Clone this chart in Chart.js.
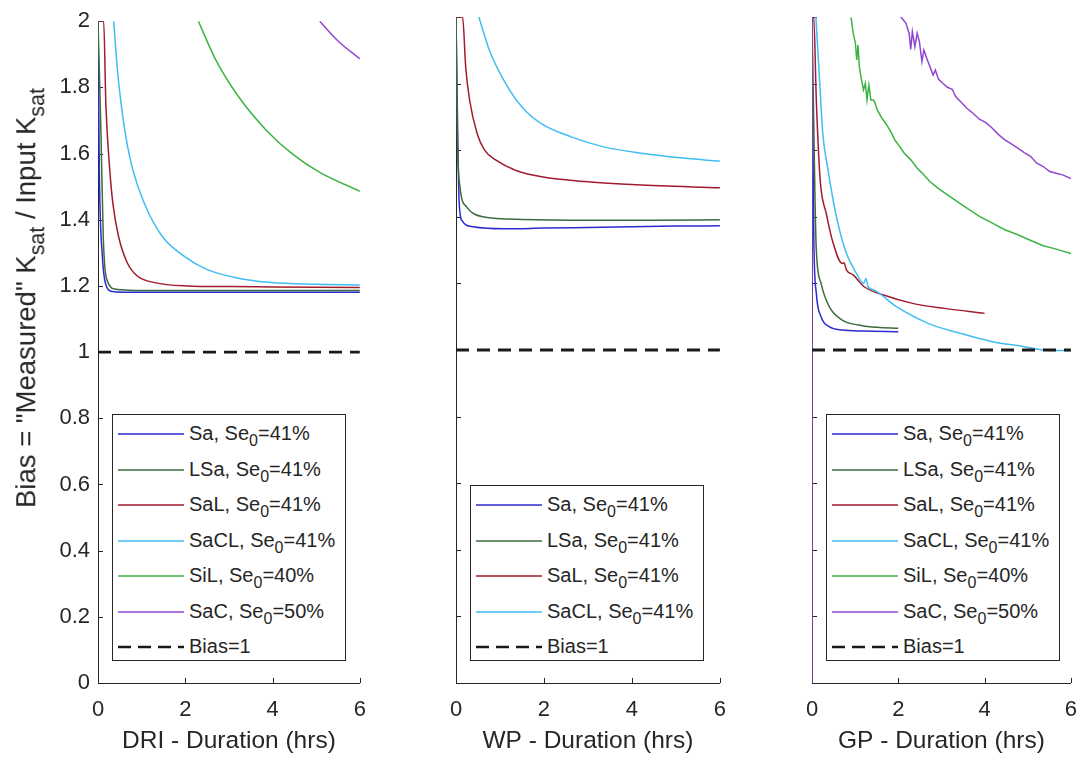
<!DOCTYPE html>
<html>
<head>
<meta charset="utf-8">
<script src="https://cdn.jsdelivr.net/npm/chart.js@4.4.1/dist/chart.umd.min.js"></script>
<style>
  html, body { margin: 0; padding: 0; background: #fff; }
  #fig { position: relative; width: 1091px; height: 758px; overflow: hidden;
         font-family: "Liberation Sans", Arial, sans-serif; color: #262626; }
  canvas { position: absolute; top: 0; }
  .legend { position: absolute; border: 1px solid #262626; background: #fff; box-sizing: border-box; }
  .row { position: absolute; left: 0; height: 0; width: 100%; }
  .row svg { position: absolute; left: 4px; top: -3px; }
  .row > span { position: absolute; left: 76px; top: 0; transform: translateY(-55%);
                white-space: nowrap; font-size: 20px; line-height: 1; }
  .sub { font-size: 0.8em; position: relative; top: 0.38em; }
  #ytitle { position: absolute; left: 26px; top: 298px; white-space: nowrap;
            font-size: 27.5px; line-height: 1; transform: translate(-50%, -50%) rotate(-90deg); }
  #ytitle .sub { font-size: 0.78em; top: 0.4em; }
</style>
</head>
<body>
<div id="fig">
  <canvas id="cDRI" width="380" height="758" style="left:0px"></canvas>
  <canvas id="cWP" width="360" height="758" style="left:380px"></canvas>
  <canvas id="cGP" width="351" height="758" style="left:740px"></canvas>
  <div id="ytitle">Bias = "Measured" K<span class="sub">sat</span> / Input K<span class="sub">sat</span></div>
</div>
<script>
// ---- axis ticks ----
const xTickValues = [0, 2, 4, 6];
const xTickLabels = ['0', '2', '4', '6'];
const yTickValues = [0, 0.2, 0.4, 0.6, 0.8, 1, 1.2, 1.4, 1.6, 1.8, 2];
const yTickLabels = ['0', '0.2', '0.4', '0.6', '0.8', '1', '1.2', '1.4', '1.6', '1.8', '2'];

// ---- soils and initial effective saturation ----
const soils = ['Sa', 'LSa', 'SaL', 'SaCL', 'SiL', 'SaC'];
const se0 = [41, 41, 41, 41, 40, 50];
const soilColors = ['#2b2bd4', '#3e6b3e', '#a11b2e', '#40bdf2', '#3cb544', '#9146d0'];

// ---- reference line ----
const biasLabel = 'Bias=1';
const biasT = [0, 6];
const biasV = [1, 1];

// ---- DRI : duration (hrs) and bias ----
const driSaT = [0, 0.03, 0.1, 0.19, 0.33, 0.6, 1, 2, 3, 4, 5, 6];
const driSaV = [2.0, 1.55, 1.29, 1.20, 1.183, 1.181, 1.181, 1.181, 1.181, 1.181, 1.181, 1.181];
const driLSaT = [0, 0.07, 0.12, 0.23, 0.41, 0.7, 1, 2, 4, 6];
const driLSaV = [2.0, 1.65, 1.35, 1.21, 1.19, 1.187, 1.186, 1.186, 1.186, 1.186];
const driSaLT = [0, 0.13, 0.18, 0.27, 0.34, 0.47, 0.67, 0.9, 1.3, 2.04, 3, 4, 5, 6];
const driSaLV = [2.0, 2.0, 1.75, 1.55, 1.45, 1.35, 1.27, 1.23, 1.21, 1.20, 1.198, 1.197, 1.196, 1.195];
const driSaCLT = [0.36, 0.44, 0.53, 0.64, 0.8, 1.06, 1.47, 1.97, 2.49, 3.16, 3.97, 5, 6];
const driSaCLV = [2.0, 1.86, 1.75, 1.65, 1.55, 1.45, 1.35, 1.29, 1.25, 1.225, 1.21, 1.205, 1.203];
const driSiLT = [2.3, 2.71, 3.23, 3.86, 4.49, 5.08, 6];
const driSiLV = [2.0, 1.88, 1.77, 1.67, 1.595, 1.543, 1.486];
const driSaCT = [5.08, 5.5, 6];
const driSaCV = [2.0, 1.94, 1.886];

// ---- WP : duration (hrs) and bias ----
const wpSaT = [0, 0.07, 0.13, 0.39, 1.13, 2, 3, 4, 5, 6];
const wpSaV = [2.0, 1.45, 1.39, 1.37, 1.364, 1.366, 1.368, 1.37, 1.372, 1.373];
const wpLSaT = [0, 0.03, 0.09, 0.24, 0.61, 1.5, 3, 4.5, 6];
const wpLSaV = [2.0, 1.65, 1.49, 1.43, 1.40, 1.392, 1.39, 1.39, 1.391];
const wpSaLT = [0, 0.15, 0.22, 0.31, 0.48, 0.65, 0.91, 1.35, 1.95, 2.99, 4.1, 6];
const wpSaLV = [2.0, 2.0, 1.85, 1.75, 1.65, 1.60, 1.57, 1.54, 1.52, 1.505, 1.496, 1.487];
const wpSaCLT = [0.52, 0.76, 1.13, 1.5, 1.94, 2.62, 3.36, 4.26, 5.1, 6];
const wpSaCLV = [2.0, 1.90, 1.80, 1.73, 1.68, 1.64, 1.61, 1.59, 1.577, 1.567];

// ---- GP : duration (hrs) and bias ----
const gpSaT = [0, 0.04, 0.10, 0.21, 0.4, 0.7, 1.2, 2.0];
const gpSaV = [2.0, 1.35, 1.17, 1.10, 1.07, 1.06, 1.057, 1.055];
const gpLSaT = [0, 0.07, 0.10, 0.21, 0.4, 0.7, 1.07, 1.51, 2.0];
const gpLSaV = [2.0, 1.45, 1.30, 1.20, 1.13, 1.09, 1.075, 1.068, 1.065];
const gpSaLT = [0, 0.04, 0.10, 0.19, 0.33, 0.47, 0.70, 0.74, 0.80, 0.96, 1.21, 1.66, 2.33, 3.07, 4.0];
const gpSaLV = [2.0, 2.0, 1.75, 1.51, 1.41, 1.33, 1.26, 1.262, 1.24, 1.225, 1.19, 1.165, 1.14, 1.125, 1.11];
const gpSaCLT = [0.09, 0.18, 0.25, 0.36, 0.55, 0.77, 1.03, 1.2, 1.25, 1.3, 1.44, 1.96, 2.69, 3.44, 4.18, 4.92, 5.36, 6];
const gpSaCLV = [2.0, 1.80, 1.65, 1.55, 1.41, 1.30, 1.23, 1.20, 1.215, 1.19, 1.18, 1.13, 1.08, 1.05, 1.025, 1.01, 1.0, 0.998];
const gpSiLT = [0.904, 0.956, 1.007, 1.037, 1.067, 1.096, 1.141, 1.193, 1.237, 1.274, 1.318, 1.363, 1.422, 1.46, 1.511, 1.622, 1.733, 1.844, 1.918, 2.03, 2.14, 2.29, 2.44, 2.59, 2.73, 2.92, 3.14, 3.36, 3.59, 3.88, 4.18, 4.47, 4.77, 5.07, 5.36, 5.66, 6.0];
const gpSiLV = [1.999, 1.951, 1.921, 1.871, 1.916, 1.851, 1.816, 1.781, 1.801, 1.751, 1.796, 1.751, 1.751, 1.742, 1.721, 1.696, 1.676, 1.651, 1.631, 1.611, 1.591, 1.571, 1.546, 1.526, 1.506, 1.486, 1.466, 1.446, 1.426, 1.401, 1.381, 1.361, 1.346, 1.329, 1.313, 1.303, 1.29];
const gpSaCT = [0, 0, 2.067, 2.178, 2.252, 2.289, 2.326, 2.385, 2.437, 2.489, 2.548, 2.593, 2.659, 2.733, 2.807, 2.859, 2.933, 3.03, 3.14, 3.25, 3.33, 3.44, 3.59, 3.73, 3.88, 4.03, 4.18, 4.33, 4.47, 4.62, 4.77, 4.92, 5.07, 5.21, 5.36, 5.51, 5.66, 5.81, 6.0];
const gpSaCV = [0, 2.6, 1.999, 1.981, 1.951, 1.903, 1.956, 1.911, 1.951, 1.926, 1.866, 1.901, 1.876, 1.851, 1.826, 1.841, 1.813, 1.801, 1.789, 1.783, 1.761, 1.746, 1.726, 1.711, 1.693, 1.683, 1.666, 1.646, 1.631, 1.619, 1.606, 1.593, 1.581, 1.561, 1.551, 1.536, 1.531, 1.526, 1.515];

// ---- panel definitions (noisy GP runs are drawn as straight segments) ----
const panels = [
  { canvas: 'cDRI', title: 'DRI - Duration (hrs)', axisWidth: 98, padRight: 12, showYLabels: true,
    series: [[driSaT, driSaV], [driLSaT, driLSaV], [driSaLT, driSaLV], [driSaCLT, driSaCLV], [driSiLT, driSiLV], [driSaCT, driSaCV]],
    smooth: [true, true, true, true, true, true],
    legend: { left: 112, top: 414, width: 234 } },
  { canvas: 'cWP', title: 'WP - Duration (hrs)', axisWidth: 76, padRight: 15, showYLabels: false,
    series: [[wpSaT, wpSaV], [wpLSaT, wpLSaV], [wpSaLT, wpSaLV], [wpSaCLT, wpSaCLV]],
    smooth: [true, true, true, true],
    legend: { left: 470, top: 485, width: 234 } },
  { canvas: 'cGP', title: 'GP - Duration (hrs)', axisWidth: 72, padRight: 9, showYLabels: false,
    series: [[gpSaT, gpSaV], [gpLSaT, gpLSaV], [gpSaLT, gpSaLV], [gpSaCLT, gpSaCLV], [gpSiLT, gpSiLV], [gpSaCT, gpSaCV]],
    smooth: [true, true, true, true, false, false],
    legend: { left: 826, top: 414, width: 234 } }
];

const AXIS = '#262626';
const FONT = '"Liberation Sans", Arial, sans-serif';
const ROW_GAP = 35.5;

const toPoints = (t, v) => t.map((x, i) => ({ x: x, y: v[i] }));

// short tick marks pointing into the plot area, placed by the scales
const inwardTicks = {
  id: 'inwardTicks',
  beforeDatasetsDraw(chart) {
    const { ctx, chartArea: a, scales: { x, y } } = chart;
    ctx.save();
    ctx.strokeStyle = AXIS;
    ctx.lineWidth = 1;
    ctx.beginPath();
    y.ticks.forEach(t => {
      const py = Math.round(y.getPixelForValue(t.value)) + 0.5;
      ctx.moveTo(a.left, py); ctx.lineTo(a.left + 5, py);
    });
    x.ticks.forEach(t => {
      const px = Math.round(x.getPixelForValue(t.value)) + 0.5;
      ctx.moveTo(px, a.bottom); ctx.lineTo(px, a.bottom - 5);
    });
    ctx.stroke();
    ctx.restore();
  }
};

function buildLegend(p) {
  const fig = document.getElementById('fig');
  const n = p.series.length + 1;
  const box = document.createElement('div');
  box.className = 'legend';
  box.style.left = p.legend.left + 'px';
  box.style.top = p.legend.top + 'px';
  box.style.width = p.legend.width + 'px';
  box.style.height = (20 + (n - 1) * ROW_GAP + 14) + 'px';
  for (let i = 0; i < n; i++) {
    const row = document.createElement('div');
    row.className = 'row';
    row.style.top = (19 + i * ROW_GAP) + 'px';
    const isBias = i === n - 1;
    const stroke = isBias ? '#1a1a1a' : soilColors[i];
    const dash = isBias ? ' stroke-dasharray="13 7"' : '';
    const w = isBias ? 2.6 : 1.5;
    row.innerHTML = '<svg width="67" height="6"><line x1="1" y1="3" x2="67" y2="3" stroke="' + stroke +
      '" stroke-width="' + w + '"' + dash + '/></svg>' +
      (isBias ? '<span>' + biasLabel + '</span>'
              : '<span>' + soils[i] + ', Se<span class="sub">0</span>=' + se0[i] + '%</span>');
    box.appendChild(row);
  }
  fig.appendChild(box);
}

panels.forEach(p => {
  const datasets = p.series.map((s, i) => ({
    label: soils[i] + ', Se0=' + se0[i] + '%',
    data: toPoints(s[0], s[1]),
    borderColor: soilColors[i],
    borderWidth: 1.5,
    pointRadius: 0,
    tension: 0,
    cubicInterpolationMode: p.smooth[i] ? 'monotone' : 'default',
    fill: false,
    order: 20 - i
  }));
  datasets.push({
    label: biasLabel,
    data: toPoints(biasT, biasV),
    borderColor: '#1a1a1a',
    borderWidth: 2.8,
    borderDash: [13, 8],
    pointRadius: 0,
    fill: false,
    order: 0
  });

  new Chart(document.getElementById(p.canvas), {
    type: 'scatter',
    data: { datasets: datasets },
    options: {
      responsive: false,
      animation: false,
      devicePixelRatio: 1,
      showLine: true,
      layout: { padding: { top: 17, right: p.padRight, bottom: 0, left: 0 } },
      plugins: { legend: { display: false }, tooltip: { enabled: false } },
      scales: {
        x: {
          type: 'linear', min: 0, max: 6,
          afterBuildTicks: s => { s.ticks = xTickValues.map(v => ({ value: v })); },
          afterFit: s => { s.height = 75; },
          grid: { display: false, drawTicks: false },
          border: { display: true, color: AXIS, width: 1 },
          ticks: { color: AXIS, padding: 14, font: { family: FONT, size: 22 },
                   maxRotation: 0, autoSkip: false,
                   callback: (v, i) => xTickLabels[i] },
          title: { display: true, text: p.title, color: AXIS,
                   font: { family: FONT, size: 24.5 }, padding: { top: 0, bottom: 2 } }
        },
        y: {
          type: 'linear', min: 0, max: 2,
          afterBuildTicks: s => { s.ticks = yTickValues.map(v => ({ value: v })); },
          afterFit: s => { s.width = p.axisWidth; },
          grid: { display: false, drawTicks: false },
          border: { display: true, color: AXIS, width: 1 },
          ticks: { display: p.showYLabels, color: AXIS, padding: 8,
                   font: { family: FONT, size: 22 }, autoSkip: false,
                   callback: (v, i) => yTickLabels[i] }
        }
      }
    },
    plugins: [inwardTicks]
  });
  buildLegend(p);
});
</script>
</body>
</html>
